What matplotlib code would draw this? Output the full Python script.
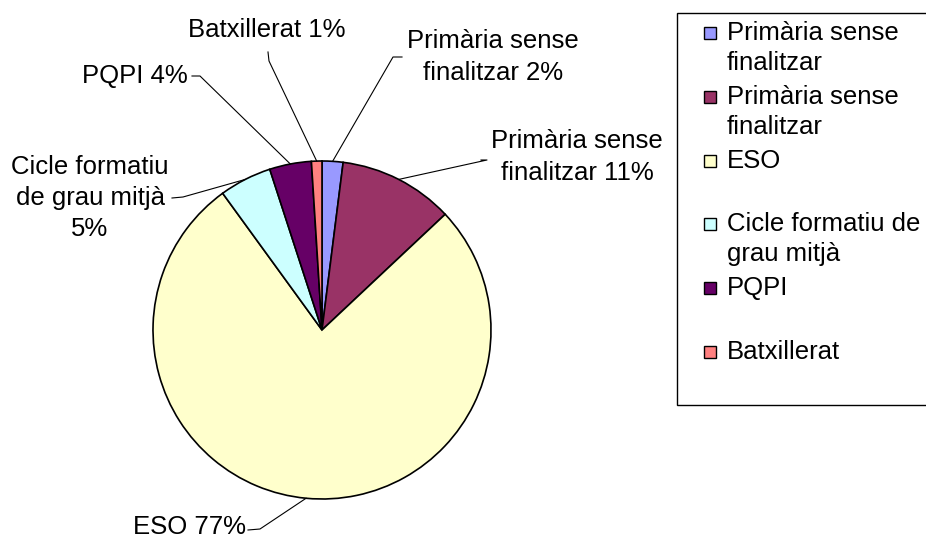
import numpy as np
import matplotlib
matplotlib.use("Agg")
import matplotlib.pyplot as plt
from matplotlib.patches import Rectangle

plt.rcParams["font.family"] = ["Liberation Sans", "DejaVu Sans"]

# data
categories = ["Primària sense finalitzar", "Primària sense finalitzar", "ESO",
              "Cicle formatiu de grau mitjà", "PQPI", "Batxillerat"]
values = [2, 11, 77, 5, 4, 1]
colors = ["#9999FF", "#993366", "#FFFFCC", "#CCFFFF", "#660066", "#FF8080"]
slice_labels = ["Primària sense\nfinalitzar 2%", "Primària sense\nfinalitzar 11%",
                "ESO 77%", "Cicle formatiu\nde grau mitjà\n5%", "PQPI 4%",
                "Batxillerat 1%"]
legend_lines = [["Primària sense", "finalitzar"], ["Primària sense", "finalitzar"],
                ["ESO"], ["Cicle formatiu de", "grau mitjà"], ["PQPI"], ["Batxillerat"]]

W, H = 926, 540
FS = 18.5

fig = plt.figure(figsize=(W / 100, H / 100), dpi=100)
ax = fig.add_axes([0, 0, 1, 1])


def Y(y):  # pixel-from-top -> axes y
    return H - y


cx, cy, R = 322, Y(330), 169
wedges, _ = ax.pie(values, colors=colors, startangle=90, counterclock=False,
                   center=(cx, cy), radius=R, frame=True,
                   wedgeprops=dict(edgecolor="black", linewidth=1.2))
ax.set_xlim(0, W)
ax.set_ylim(0, H)
ax.set_aspect("equal")
ax.axis("off")

# label placement: text x, text y, alignment, leader points before the edge point
label_pos = [
    (493, 57, "center", [(402, 57), (393, 57)]),
    (577, 157, "center", [(481, 160), (487, 160)]),
    (246, 527, "right", [(248, 530), (260, 529)]),
    (90, 198, "center", [(172, 198), (183, 197)]),
    (188, 76, "right", [(192, 76), (200, 76)]),
    (267, 30, "center", [(268, 52), (269, 61)]),
]

for w, lab, (tx, ty, ha, pts) in zip(wedges, slice_labels, label_pos):
    mid = np.deg2rad((w.theta1 + w.theta2) / 2)
    ex, ey = cx + R * np.cos(mid), cy + R * np.sin(mid)
    xs = [p[0] for p in pts] + [ex]
    ys = [Y(p[1]) for p in pts] + [ey]
    ax.plot(xs, ys, color="black", lw=0.8)
    ax.text(tx, Y(ty), lab, ha=ha, va="center", fontsize=FS,
            multialignment="center", linespacing=1.37)

# legend
ax.add_patch(Rectangle((677, Y(405)), 260, 392, facecolor="white",
                       edgecolor="black", lw=1, clip_on=False))
entry_y = [33, 97, 161, 224, 288, 352]
for col, lines, ey in zip(colors, legend_lines, entry_y):
    ax.add_patch(Rectangle((704, Y(ey + 6)), 12, 12, facecolor=col,
                           edgecolor="black", lw=1))
    for i, line in enumerate(lines):
        ax.text(727, Y(ey + i * 30), line, ha="left", va="center", fontsize=FS)

fig.savefig("out.png", dpi=100)
